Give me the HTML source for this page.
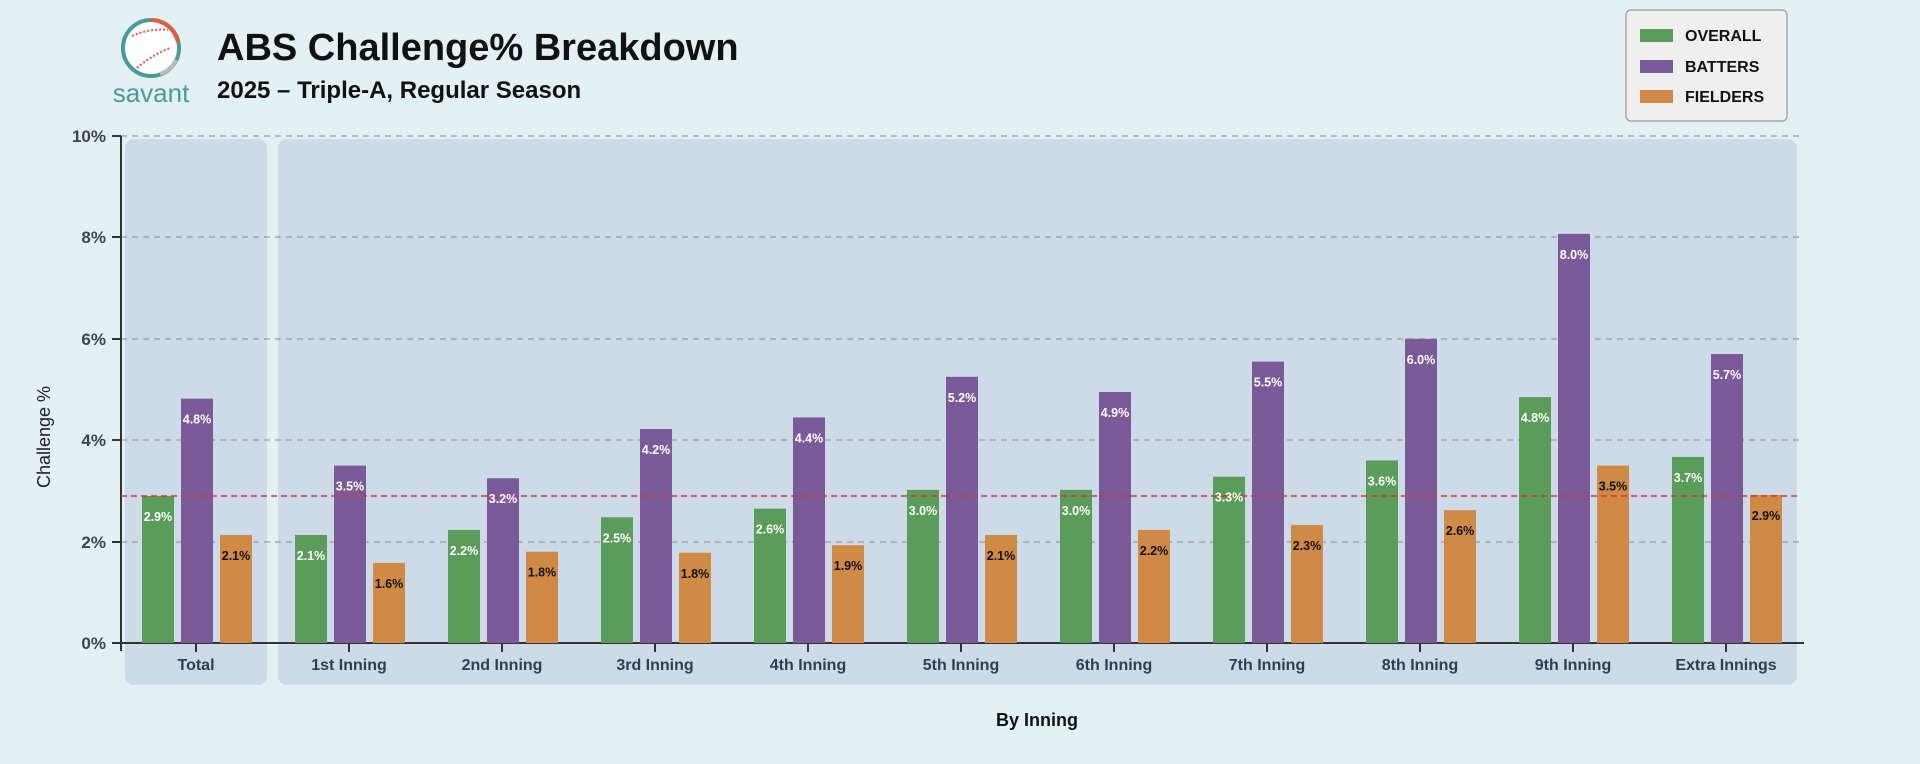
<!DOCTYPE html>
<html><head><meta charset="utf-8"><style>
html,body{margin:0;padding:0;background:#e3f0f4;}
svg{display:block;font-family:"Liberation Sans",sans-serif;}
</style></head><body>
<svg width="1920" height="764" viewBox="0 0 1920 764" xmlns="http://www.w3.org/2000/svg">
<rect width="1920" height="764" fill="#e3f0f4"/>
<circle cx="151" cy="48" r="28" fill="#fff" stroke="#4a9a9a" stroke-width="4"/>
<path d="M151 20 A28 28 0 0 1 178 42" fill="none" stroke="#e25b3a" stroke-width="4"/>
<path d="M176 60 A28 28 0 0 1 160 74" fill="none" stroke="#bbb" stroke-width="4"/>
<path d="M132 36 Q150 28 168 30" fill="none" stroke="#e2554a" stroke-width="2" stroke-dasharray="2 2"/>
<path d="M137 68 Q152 55 170 48" fill="none" stroke="#e2554a" stroke-width="2" stroke-dasharray="2 2"/>
<text x="151" y="102" text-anchor="middle" font-size="26" fill="#4a9a9a">savant</text>
<text x="217" y="60" font-size="38" font-weight="bold" fill="#111">ABS Challenge% Breakdown</text>
<text x="217" y="98" font-size="24" font-weight="bold" fill="#111">2025 – Triple-A, Regular Season</text>
<rect x="1626" y="10" width="161" height="111" rx="5" fill="#efefef" stroke="#999" stroke-width="1.2"/>
<rect x="1640" y="29" width="33" height="13" fill="#5a9c5a"/>
<rect x="1640" y="60" width="33" height="13" fill="#7a5a98"/>
<rect x="1640" y="90" width="33" height="13" fill="#d08a45"/>
<text x="1685" y="41" font-size="16" font-weight="bold" fill="#111">OVERALL</text>
<text x="1685" y="72" font-size="16" font-weight="bold" fill="#111">BATTERS</text>
<text x="1685" y="102" font-size="16" font-weight="bold" fill="#111">FIELDERS</text>
<rect x="125" y="139" width="142" height="546" rx="9" fill="#cddbe8"/>
<rect x="278" y="139" width="1519" height="546" rx="9" fill="#cddbe8"/>
<g stroke="#999" stroke-width="1.2" stroke-dasharray="6 5">
<line x1="121" x2="1800" y1="136" y2="136"/>
<line x1="121" x2="1800" y1="237" y2="237"/>
<line x1="121" x2="1800" y1="339" y2="339"/>
<line x1="121" x2="1800" y1="440" y2="440"/>
<line x1="121" x2="1800" y1="542" y2="542"/>
</g>
<g font-size="17" font-weight="bold" fill="#3d4450" text-anchor="end">
<text x="106" y="142">10%</text><text x="106" y="243">8%</text><text x="106" y="345">6%</text><text x="106" y="446">4%</text><text x="106" y="548">2%</text><text x="106" y="649">0%</text>
</g>
<g stroke="#333" stroke-width="2">
<line x1="121" y1="136" x2="121" y2="651"/>
<line x1="112" y1="136" x2="121" y2="136"/>
<line x1="112" y1="237" x2="121" y2="237"/>
<line x1="112" y1="339" x2="121" y2="339"/>
<line x1="112" y1="440" x2="121" y2="440"/>
<line x1="112" y1="542" x2="121" y2="542"/>
<line x1="112" y1="643" x2="1804" y2="643"/>
</g>
<g id="bars"></g>
<line x1="121" x2="1800" y1="496" y2="496" stroke="#e03030" stroke-width="1.5" stroke-dasharray="6 4"/>
<g id="labels"></g>
<text transform="translate(50,437) rotate(-90)" text-anchor="middle" font-size="18" fill="#222">Challenge %</text>
<text x="1037" y="726" text-anchor="middle" font-size="18" font-weight="bold" fill="#111">By Inning</text>
<script>
var d=[["Total",2.9,4.82,2.13,"2.9","4.8","2.1"],["1st Inning",2.13,3.5,1.58,"2.1","3.5","1.6"],["2nd Inning",2.23,3.25,1.8,"2.2","3.2","1.8"],["3rd Inning",2.48,4.22,1.78,"2.5","4.2","1.8"],["4th Inning",2.65,4.45,1.93,"2.6","4.4","1.9"],["5th Inning",3.02,5.25,2.13,"3.0","5.2","2.1"],["6th Inning",3.02,4.95,2.23,"3.0","4.9","2.2"],["7th Inning",3.28,5.55,2.33,"3.3","5.5","2.3"],["8th Inning",3.6,6.0,2.62,"3.6","6.0","2.6"],["9th Inning",4.85,8.07,3.5,"4.8","8.0","3.5"],["Extra Innings",3.67,5.7,2.92,"3.7","5.7","2.9"]];
var ns="http://www.w3.org/2000/svg",B=document.getElementById("bars"),L=document.getElementById("labels");
function el(p,t,a,txt){var e=document.createElementNS(ns,t);for(var k in a)e.setAttribute(k,a[k]);if(txt)e.textContent=txt;p.appendChild(e);}
var cols=["#5a9c5a","#7a5a98","#d08a45"],off=[-54,-15,24],tc=["#fff","#fff","#111"];
d.forEach(function(r,i){var c=196+i*153;
 for(var j=0;j<3;j++){var v=r[j+1],y=643-v*50.7;
  el(B,"rect",{x:c+off[j],y:y,width:32,height:643-y,fill:cols[j]});
  el(L,"text",{x:c+off[j]+16,y:y+25,"text-anchor":"middle","font-size":"12.5","font-weight":"bold",fill:tc[j]},r[j+4]+"%");}
 el(B,"line",{x1:c,x2:c,y1:643,y2:652,stroke:"#333","stroke-width":2});
 el(L,"text",{x:c,y:670,"text-anchor":"middle","font-size":"16","font-weight":"bold",fill:"#2f3e50"},r[0]);
});
</script>
</svg>
</body></html>
